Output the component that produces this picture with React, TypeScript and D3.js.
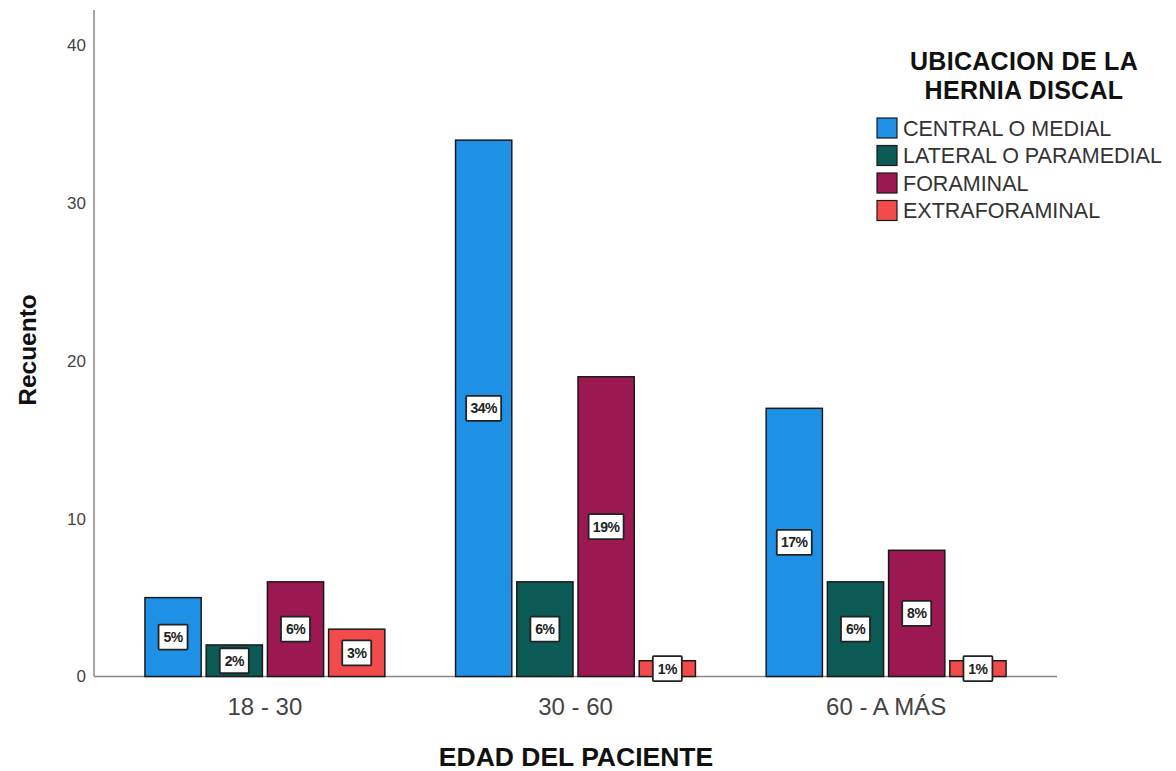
import React from "react";
import * as d3 from "d3";

const categories = ["18 - 30", "30 - 60", "60 - A MÁS"];
const seriesNames = ["CENTRAL O MEDIAL", "LATERAL O PARAMEDIAL", "FORAMINAL", "EXTRAFORAMINAL"];
const seriesColors = ["#1e90e6", "#0c5a55", "#9b1850", "#f24b4b"];
const centralValues = [5, 34, 17];
const lateralValues = [2, 6, 6];
const foraminalValues = [6, 19, 8];
const extraValues = [3, 1, 1];
const percentLabels = [
  ["5%", "34%", "17%"],
  ["2%", "6%", "6%"],
  ["6%", "19%", "8%"],
  ["3%", "1%", "1%"],
];
const yTicks = [0, 10, 20, 30, 40];

const W = 1176;
const H = 771;

export default function App() {
  const seriesValues = [centralValues, lateralValues, foraminalValues, extraValues];
  const y = d3.scaleLinear().domain([0, 40]).range([676.5, 45.5]);
  const x0 = d3
    .scaleBand<string>()
    .domain(categories)
    .range([109.6, 1041.4])
    .paddingInner(0.2277)
    .paddingOuter(0.1138);
  const x1 = d3
    .scaleBand<string>()
    .domain(seriesNames)
    .range([0, x0.bandwidth()])
    .paddingInner(0.0816)
    .paddingOuter(0);
  const font = "Arial, 'Liberation Sans', sans-serif";

  return (
    <svg width={W} height={H} style={{ position: "absolute", left: 0, top: 0, background: "#fff" }} fontFamily={font}>
      {/* axes */}
      <line x1={94} x2={94} y1={10} y2={676.5} stroke="#8a8a8a" strokeWidth={1.5} />
      <line x1={94} x2={1057} y1={676.5} y2={676.5} stroke="#8a8a8a" strokeWidth={1.5} />
      {yTicks.map((t) => (
        <text key={t} x={86} y={y(t)} dy="0.35em" textAnchor="end" fontSize={17} fill="#444">
          {t}
        </text>
      ))}
      {categories.map((c) => (
        <text key={c} x={(x0(c) ?? 0) + x0.bandwidth() / 2} y={715} textAnchor="middle" fontSize={24} fill="#444">
          {c}
        </text>
      ))}
      <text x={576} y={766} textAnchor="middle" fontSize={26.5} fontWeight="bold" fill="#111">
        EDAD DEL PACIENTE
      </text>
      <text transform="translate(36,350) rotate(-90)" textAnchor="middle" fontSize={24.5} fontWeight="bold" fill="#111">
        Recuento
      </text>
      {/* bars */}
      {seriesNames.map((s, si) =>
        categories.map((c, ci) => {
          const v = seriesValues[si][ci];
          const bx = (x0(c) ?? 0) + (x1(s) ?? 0);
          const by = y(v);
          const bw = x1.bandwidth();
          const bh = y(0) - y(v);
          return (
            <rect key={s + c} x={bx} y={by} width={bw} height={bh} fill={seriesColors[si]} stroke="#1a1a1a" strokeWidth={1.5} />
          );
        })
      )}
      {/* labels */}
      {seriesNames.map((s, si) =>
        categories.map((c, ci) => {
          const v = seriesValues[si][ci];
          const cx = (x0(c) ?? 0) + (x1(s) ?? 0) + x1.bandwidth() / 2;
          const cy = (y(v) + y(0)) / 2;
          const lab = percentLabels[si][ci];
          const w = lab.length === 3 ? 35 : 29;
          return (
            <g key={"l" + s + c}>
              <rect x={cx - w / 2} y={cy - 12.5} width={w} height={25} fill="#fff" stroke="#222" strokeWidth={1.8} rx={1} />
              <text x={cx} y={cy} dy="0.36em" textAnchor="middle" fontSize={14} fontWeight="bold" fill="#222" letterSpacing={-0.5}>
                {lab}
              </text>
            </g>
          );
        })
      )}
      {/* legend */}
      <text x={1024} y={70} textAnchor="middle" fontSize={25} fontWeight="bold" fill="#111" letterSpacing={0.3}>
        UBICACION DE LA
      </text>
      <text x={1024} y={99} textAnchor="middle" fontSize={25} fontWeight="bold" fill="#111" letterSpacing={0.3}>
        HERNIA DISCAL
      </text>
      {seriesNames.map((s, i) => (
        <g key={"leg" + s} transform={`translate(877,${118 + i * 27.5})`}>
          <rect x={0} y={0} width={20} height={20} fill={seriesColors[i]} stroke="#1a1a1a" strokeWidth={1.2} />
          <text x={26} y={10} dy="0.36em" fontSize={21.5} fill="#333">
            {s}
          </text>
        </g>
      ))}
    </svg>
  );
}
